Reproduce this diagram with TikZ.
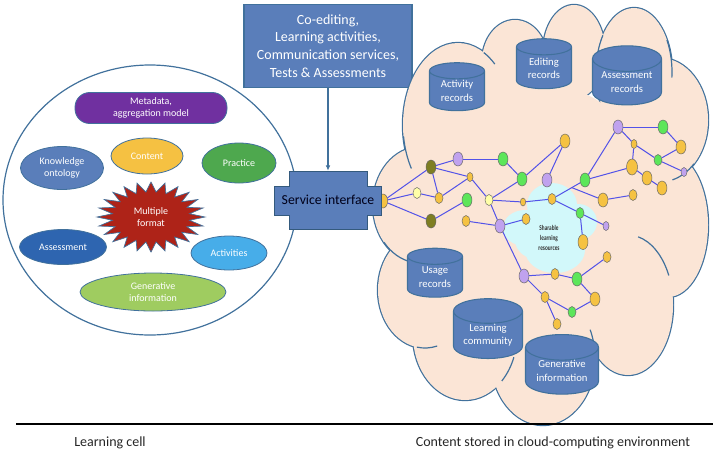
\documentclass[tikz,border=0pt]{standalone}
\usepackage{fontspec}
\setmainfont{Carlito}
\newfontfamily\narrowfont[FakeStretch=0.72]{Carlito}
\usetikzlibrary{shapes.geometric,arrows.meta,calc}
\newcommand\myfs[2]{\fontsize{#1}{#2}\selectfont}
\definecolor{boxblue}{HTML}{5A7EBA}
\definecolor{bubline}{HTML}{41719C}
\definecolor{cmeta}{HTML}{7030A0}
\definecolor{ccontent}{HTML}{F5C142}
\definecolor{cpractice}{HTML}{4EA84E}
\definecolor{cknow}{HTML}{5A7EBA}
\definecolor{cassess}{HTML}{2E65B0}
\definecolor{cactiv}{HTML}{47ADE9}
\definecolor{cgen}{HTML}{9FCC60}
\definecolor{cstar}{HTML}{AE2318}
\definecolor{peach}{HTML}{FBE5D6}
\definecolor{ccyan}{HTML}{D2F8FA}
\definecolor{nyel}{HTML}{F5C242}
\definecolor{ngrn}{HTML}{5DE65A}
\definecolor{npur}{HTML}{C0A2EE}
\definecolor{noli}{HTML}{7E7E22}
\definecolor{npal}{HTML}{FFFFA8}
\definecolor{nedge}{HTML}{5252E8}
\definecolor{darktext}{HTML}{262626}
\tikzset{
  bub/.style={ellipse, draw=bubline, line width=0.6pt, text=white, align=center,
    inner sep=0pt, font=\myfs{7.5}{8.6}},
  cyl/.style={cylinder, shape border rotate=90, aspect=0.5, draw=bubline, line width=0.8pt,
    cylinder uses custom fill, cylinder body fill=boxblue, cylinder end fill=boxblue,
    text=white, align=center, inner sep=0pt, font=\myfs{8}{10}},
  nd/.style={ellipse, draw=black!60, line width=0.35pt, inner sep=0pt},
  nbig/.style={minimum width=7.5pt, minimum height=10.5pt},
  nmed/.style={minimum width=6pt, minimum height=8.25pt},
  nsml/.style={minimum width=4.5pt, minimum height=6.75pt},
  cy/.style={fill=nyel}, cg/.style={fill=ngrn}, cp/.style={fill=npur},
  co/.style={fill=noli}, cl/.style={fill=npal},
  link/.style={draw=nedge, line width=0.75pt},
  fold/.style={draw=bubline, line width=0.9pt}
}
\begin{document}
\begin{tikzpicture}[x=0.75pt,y=-0.75pt]
\useasboundingbox (0,0) rectangle (713,465);

% ---------- learning cell ----------
\node[ellipse, draw=bubline, line width=0.9pt, minimum width=220.5pt, minimum height=202.5pt, inner sep=0pt] (cell) at (150,200) {};
\node[draw=bubline, fill=cmeta, line width=0.6pt, rounded corners=11pt, minimum width=114pt, minimum height=23.25pt,
  text=white, align=center, inner sep=0pt, font=\myfs{7.5}{8.6}] (meta) at (151,108) {Metadata,\\aggregation model};
\node[bub, fill=ccontent, minimum width=54pt, minimum height=27pt] (content) at (147,156) {Content};
\node[bub, fill=cpractice, minimum width=55.5pt, minimum height=30pt] (practice) at (239,163) {Practice};
\node[bub, fill=cknow, minimum width=62.25pt, minimum height=32.25pt] (know) at (62,168) {Knowledge\\ontology};
\node[bub, fill=cassess, minimum width=65.25pt, minimum height=26.25pt] (assess) at (63,247) {Assessment};
\node[bub, fill=cactiv, minimum width=57pt, minimum height=25.5pt] (activ) at (229,253) {Activities};
\node[bub, fill=cgen, minimum width=109.5pt, minimum height=28.5pt] (gen) at (153,292) {Generative\\information};
\filldraw[fill=cstar, draw=bubline, line width=0.5pt]
  plot[samples at={0,7.5,...,352.5}, variable=\t]
  ({151+54*(0.86+0.14*cos(24*\t))*cos(\t)}, {217+35*(0.86+0.14*cos(24*\t))*sin(\t)}) -- cycle;
\node[text=white, align=center, font=\myfs{7.5}{8.6}] (multi) at (151,217) {Multiple\\format};

% ---------- top box ----------
\node[draw=bubline, fill=boxblue, line width=0.8pt, text=white, align=center, inner sep=0pt,
  font=\myfs{10.5}{13.3}, minimum width=126pt, minimum height=62.25pt] (services) at (328,46)
  {Co-editing,\\Learning activities,\\Communication services,\\Tests \& Assessments};

% ---------- cloud ----------
\foreach \cx/\cy/\rx/\ry in {458/125/55/82, 515/62/33/42, 574/52/31/47, 634/72/38/64,
   660/120/48/62, 668/225/40/72, 628/305/45/70, 543/358/52/67, 465/335/52/65,
   425/290/47/58, 420/205/47/58}
  \draw[draw=bubline, line width=1.8pt] (\cx,\cy) ellipse [x radius=\rx, y radius=\ry];
\foreach \cx/\cy/\rx/\ry in {458/125/55/82, 515/62/33/42, 574/52/31/47, 634/72/38/64,
   660/120/48/62, 668/225/40/72, 628/305/45/70, 543/358/52/67, 465/335/52/65,
   425/290/47/58, 420/205/47/58, 545/225/115/140}
  \fill[peach] (\cx,\cy) ellipse [x radius=\rx, y radius=\ry];
% folds
\draw[fold] (458,125) ++(148:55 and 82) arc[start angle=148, end angle=172, x radius=55, y radius=82];
\draw[fold] (458,125) ++(298:55 and 82) arc[start angle=298, end angle=312, x radius=55, y radius=82];
\draw[fold] (634,72) ++(198:38 and 64) arc[start angle=198, end angle=215, x radius=38, y radius=64];
\draw[fold] (634,72) ++(330:38 and 64) arc[start angle=330, end angle=365, x radius=38, y radius=64];
\draw[fold] (660,120) ++(45:48 and 62) arc[start angle=45, end angle=75, x radius=48, y radius=62];
\draw[fold] (628,305) ++(283:45 and 70) arc[start angle=283, end angle=335, x radius=45, y radius=70];
\draw[fold] (543,358) ++(335:52 and 67) arc[start angle=335, end angle=350, x radius=52, y radius=67];
\draw[fold] (465,335) ++(20:52 and 65) arc[start angle=20, end angle=45, x radius=52, y radius=65];
\draw[fold] (425,290) ++(75:47 and 58) arc[start angle=75, end angle=100, x radius=47, y radius=58];
\draw[fold] (420,205) ++(100:47 and 58) arc[start angle=100, end angle=140, x radius=47, y radius=58];

% ---------- sharable resources ----------
\foreach \cx/\cy/\rx/\ry in {552/205/25/22, 525/228/22/18, 578/222/19/18, 555/250/30/23, 540/240/25/20}
  \fill[ccyan] (\cx,\cy) ellipse [x radius=\rx, y radius=\ry];
\node[align=center, text=black!80, font=\narrowfont\bfseries\myfs{5.5}{7.5}] (share) at (549,238) {Sharable\\learning\\resources};

% ---------- cylinders ----------
\node[cyl, minimum width=41.25pt, minimum height=36pt] (actrec) at (457,91) {Activity\\records};
\node[cyl, minimum width=41.25pt, minimum height=37.5pt] (editrec) at (544,68) {Editing\\records};
\node[cyl, minimum width=51.75pt, minimum height=37.5pt] (assrec) at (627,82) {Assessment\\records};
\node[cyl, minimum width=41.25pt, minimum height=36.75pt] (usage) at (435,277) {Usage\\records};
\node[cyl, minimum width=51.75pt, minimum height=37.5pt] (commun) at (488,335) {Learning\\community};
\node[cyl, minimum width=54.75pt, minimum height=36.75pt] (geninfo) at (562,371) {Generative\\information};

% ---------- network ----------
\node[nd,cy,minimum width=7pt,minimum height=10.5pt] (A) at (383,201) {};
\node[nd,co,nbig] (B) at (431,167) {};
\node[nd,co,nbig] (C) at (431,221) {};
\node[nd,cl,nmed] (D) at (417,193) {};
\node[nd,cy,nmed] (E) at (439,198) {};
\node[nd,cp,nbig] (F) at (458,159) {};
\node[nd,cg,nbig] (G) at (503,159) {};
\node[nd,cy,nsml] (H) at (470,177) {};
\node[nd,cg,nbig] (I) at (467,200) {};
\node[nd,cy,nmed] (AG) at (466,221) {};
\node[nd,cl,nmed] (L) at (489,200) {};
\node[nd,cp,nbig] (J) at (500,226) {};
\node[nd,cg,nbig] (G2) at (522,179) {};
\node[nd,cy,nbig] (M) at (565,141) {};
\node[nd,cp,nbig] (N) at (547,180) {};
\node[nd,cy,minimum width=4pt,minimum height=6pt] (O) at (523,202) {};
\node[nd,cy,nmed] (P) at (552,199) {};
\node[nd,cg,nbig] (Q) at (585,180) {};
\node[nd,cp,nbig] (R) at (618,127) {};
\node[nd,cg,nbig] (Y) at (663,127) {};
\node[nd,cy,nsml] (Z) at (634,144) {};
\node[nd,cy,nbig] (AB) at (681,147) {};
\node[nd,cg,nmed] (AA) at (658,160) {};
\node[nd,cp,nsml] (AC) at (684,172) {};
\node[nd,cy,minimum width=8.25pt,minimum height=12pt] (S) at (632,167) {};
\node[nd,cy,nbig] (AD) at (647,178) {};
\node[nd,cy,nbig] (AE) at (662,188) {};
\node[nd,cy,nbig] (W) at (603,200) {};
\node[nd,cy,nmed] (X) at (633,195) {};
\node[nd,cg,nmed] (T) at (580,213) {};
\node[nd,cp,nsml] (U) at (606,226) {};
\node[nd,cy,minimum width=7.5pt,minimum height=11.25pt] (V) at (583,242) {};
\node[nd,cy,nmed] (AF) at (526,219) {};
\node[nd,cp,nbig] (K) at (524,276) {};
\node[nd,cy,nmed] (BA) at (555,274) {};
\node[nd,cg,nbig] (BB) at (577,279) {};
\node[nd,cy,nmed] (BC) at (607,257) {};
\node[nd,cy,nmed] (BD) at (545,297) {};
\node[nd,cg,nmed] (BE) at (572,312) {};
\node[nd,cy,nbig] (BF) at (595,299) {};
\node[nd,cy,nmed] (BG) at (557,324) {};
\coordinate (PQ) at ($(P)!0.6!(Q)$);
\foreach \a/\b in {A/B, A/D, A/C, B/F, B/E, B/H, D/E, E/H, F/G, C/I, H/L, L/J, J/K,
   G/G2, L/G2, G2/M, M/N, L/O, O/P, P/Q, Q/R, Q/S, P/T, T/U, T/V, PQ/W, W/X, R/Y, R/Z,
   Z/S, Z/AA, Y/AB, AB/AA, AA/AC, S/AD, AD/AE, J/AF, AG/J, K/BA, BA/BB, BB/BC, K/BD,
   BD/BE, BE/BF, BB/BF, BD/BG}
  \draw[link] (\a) -- (\b);

% ---------- service interface ----------
\filldraw[fill=boxblue, draw=bubline!80!black, line width=0.6pt]
  (289,171) -- (367,171) -- (367,186) -- (381,186) -- (381,215) -- (367,215) -- (367,229)
  -- (289,229) -- (289,215) -- (274,215) -- (274,186) -- (289,186) -- cycle;
\node[minimum width=58.5pt, minimum height=43.5pt, inner sep=0pt, text=black!90!blue,
  font=\myfs{10.3}{11}] (svc) at (328,200) {Service interface};
\draw[draw=bubline, line width=0.9pt, -{Latex[length=4pt,width=3.5pt]}] (services.south) -- (svc.north);

% ---------- bottom ----------
\coordinate (baseL) at (16,424);
\coordinate (baseR) at (713,424);
\draw[line width=2pt, black] (baseL) -- (baseR);
\node[text=darktext, font=\myfs{10.5}{12}] (lcell) at (110,443) {Learning cell};
\node[text=darktext, font=\myfs{10.5}{12}] (cloudlbl) at (553,443) {Content stored in cloud-computing environment};
\end{tikzpicture}
\end{document}
